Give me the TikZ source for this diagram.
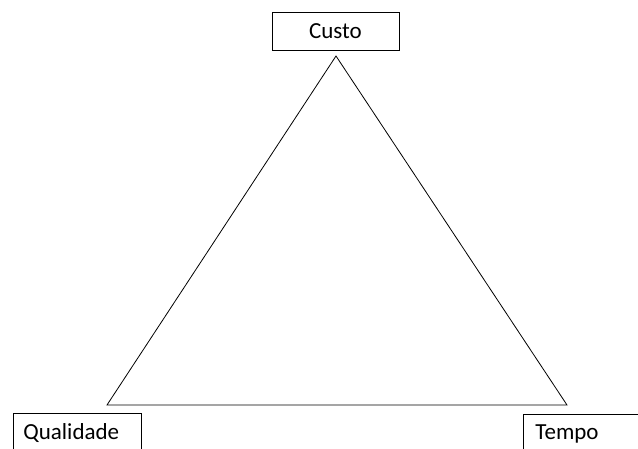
\documentclass[tikz,border=0pt]{standalone}
\usepackage{fontspec}
\setmainfont{Carlito}
\begin{document}
\begin{tikzpicture}[x=1pt,y=1pt,
  labelbox/.style={draw=black, line width=0.8pt, fill=white, font=\fontsize{23}{26}\selectfont, inner ysep=0pt},
  edge/.style={draw=black, line width=0.8pt, line join=miter}]
  \useasboundingbox (0,0) rectangle (638,448);
  \clip (0,0) rectangle (638,448);
  % triangle corners
  \coordinate (top) at (336,392);
  \coordinate (left) at (107,43);
  \coordinate (right) at (567,43);
  \draw[edge] (top) -- (left) -- (right) -- cycle;
  % labels
  \node[labelbox, minimum width=127pt, minimum height=38pt] (custo) at (335.5,417) {Custo};
  \node[labelbox, anchor=west, text width=108pt, inner xsep=10pt, align=left, minimum height=40pt] (qualidade) at (13,15) {Qualidade};
  \node[labelbox, anchor=west, text width=125pt, inner xsep=12pt, align=left, minimum height=40pt] (tempo) at (523,14) {Tempo};
\end{tikzpicture}
\end{document}
